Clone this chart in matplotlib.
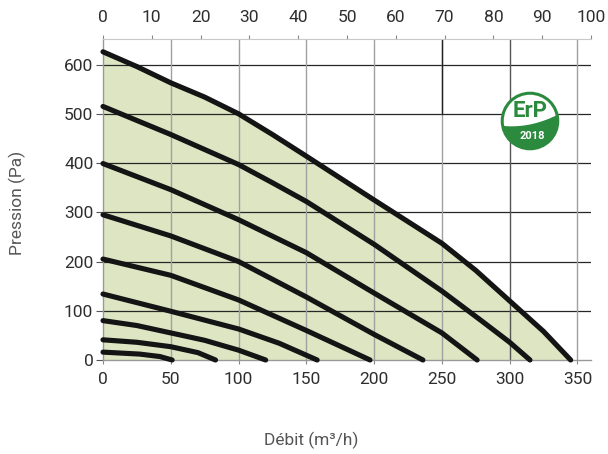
import matplotlib
matplotlib.use('Agg')
import matplotlib.pyplot as plt
import numpy as np
from matplotlib.patches import Circle, Polygon

# ── Données (débit m3/h, pression Pa) ────────────────────────────────────
q1 = [0, 25, 50, 75, 100, 125, 150, 200, 250, 275, 300, 325, 345]
p1 = [626, 596, 563, 534, 500, 458, 414, 325, 237, 182, 120, 58, 0]
q2 = [0, 50, 100, 125, 150, 200, 250, 280, 300, 315]
p2 = [515, 458, 397, 360, 322, 235, 140, 78, 36, 0]
q3 = [0, 50, 100, 150, 200, 250, 276]
p3 = [399, 346, 285, 218, 136, 55, 0]
q4 = [0, 50, 100, 150, 200, 236]
p4 = [295, 252, 200, 128, 52, 0]
q5 = [0, 50, 100, 150, 197]
p5 = [205, 172, 122, 60, 0]
q6 = [0, 50, 100, 130, 158]
p6 = [134, 99, 63, 34, 0]
q7 = [0, 25, 50, 75, 100, 120]
p7 = [80, 70, 55, 40, 20, 0]
q8 = [0, 25, 50, 70, 83]
p8 = [41, 36, 27, 15, 0]
q9 = [0, 27, 42, 51]
p9 = [16, 12, 7, 0]
courbes = [(q1, p1), (q2, p2), (q3, p3), (q4, p4), (q5, p5),
           (q6, p6), (q7, p7), (q8, p8), (q9, p9)]

debit_ticks = [0, 50, 100, 150, 200, 250, 300, 350]
pression_ticks = [0, 100, 200, 300, 400, 500, 600]
pct_ticks = [0, 10, 20, 30, 40, 50, 60, 70, 80, 90, 100]
q_max = 360  # 100 % du débit

TICK_FONT = 'Roboto'
LABEL_FONT = ['Roboto', 'DejaVu Sans']
VERT = '#dde5c3'
LOGO = '#2b8a3e'

fig = plt.figure(figsize=(6.08, 4.54), dpi=100)
ax = fig.add_axes([103 / 608, 1 - 360 / 454, 488 / 608, 321 / 454])

# zone verte sous la courbe maxi
ax.fill_between(q1, p1, 0, color=VERT, lw=0, zorder=1)

# grille
for v in pression_ticks[1:]:
    ax.axhline(v, color='#262626', lw=0.9, zorder=2)
for v in debit_ticks[1:]:
    c = '#555555' if v == 300 else '#a0a0a0'
    ax.axvline(v, color=c, lw=1.0, zorder=2)
ax.plot([250, 250], [500, 660], color='#222222', lw=1.0, zorder=2)

for q, p in courbes:
    ax.plot(q, p, color='#141414', lw=3.7, solid_capstyle='round',
            solid_joinstyle='round', clip_on=False, zorder=3)

ax.set_xlim(0, q_max)
ax.set_ylim(0, 652)
ax.set_xticks(debit_ticks)
ax.set_yticks(pression_ticks)
ax.tick_params(axis='x', length=3, pad=6, color='#888888', labelcolor='#2e2e2e',
               labelsize=12.5, labelfontfamily=TICK_FONT)
ax.tick_params(axis='y', length=5, pad=2, color='#555555', labelcolor='#2e2e2e',
               labelsize=12.5, labelfontfamily=TICK_FONT)

for s in ['left', 'bottom']:
    ax.spines[s].set_color('#999999')
    ax.spines[s].set_linewidth(1.0)
ax.spines['right'].set_visible(False)
ax.spines['top'].set_color('#c8c8c8')
ax.spines['top'].set_linewidth(0.8)

top = ax.secondary_xaxis('top', functions=(lambda x: x / (q_max / 100),
                                           lambda x: x * (q_max / 100)))
top.set_xticks(pct_ticks)
top.tick_params(length=3, pad=7, color='#888888', labelcolor='#2e2e2e',
                labelsize=12.5, labelfontfamily=TICK_FONT)
top.spines['top'].set_visible(False)

fig.text(311 / 608, 1 - 440 / 454, 'Débit (m³/h)', ha='center', va='center',
         fontsize=12.5, color='#555555', family=LABEL_FONT)
fig.text(17 / 608, 1 - 203 / 454, 'Pression (Pa)', ha='center', va='center',
         rotation=90, fontsize=12.5, color='#555555', family=LABEL_FONT)

# ── Logo ErP 2018 ─────────────────────────────────────────────────────────
lax = fig.add_axes([496 / 608, 1 - 151 / 454, 68 / 608, 60 / 454])
lax.set_xlim(-1.2, 1.2)
lax.set_ylim(-1.08, 1.08)
lax.set_aspect('equal')
lax.axis('off')
lax.add_patch(Circle((0, 0), 1.0, fc='white', ec=LOGO, lw=2.2))
t = np.linspace(np.radians(190), np.radians(355), 60)
bas = np.column_stack([np.cos(t), np.sin(t)])
xs = np.linspace(0.996, -0.985, 40)
haut = np.column_stack([xs, -0.15 + 0.2 * xs + 0.15 * xs ** 2])
lax.add_patch(Polygon(np.vstack([bas, haut]), closed=True, fc=LOGO, ec=LOGO))
lax.text(0.02, 0.36, 'ErP', ha='center', va='center', fontsize=16,
         fontweight='bold', color=LOGO, family=TICK_FONT)
lax.text(0.08, -0.55, '2018', ha='center', va='center', fontsize=8,
         fontweight='bold', color='white', family=TICK_FONT)

fig.savefig('out.png', dpi=100, facecolor='white')
